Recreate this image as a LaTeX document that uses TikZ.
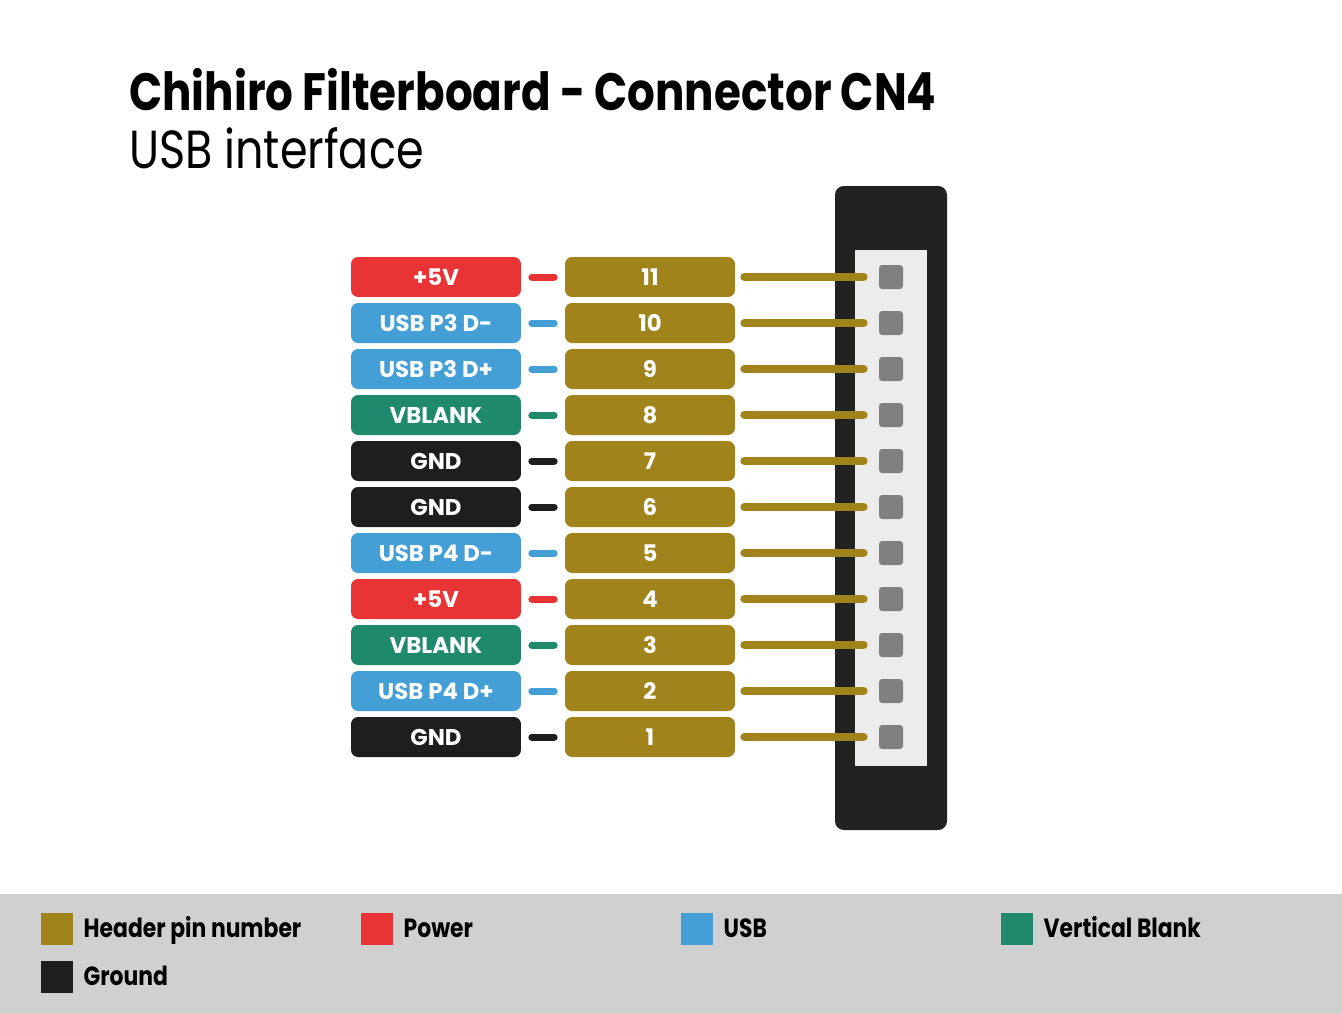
\documentclass[tikz,border=0pt]{standalone}
\usepackage{fontspec}
\setmainfont{Poppins}
\newfontfamily\narrowfont[FakeStretch=0.83]{Poppins}
\usetikzlibrary{positioning, calc}
\definecolor{pinGold}{HTML}{A0831B}
\definecolor{pwrRed}{HTML}{E83435}
\definecolor{usbBlue}{HTML}{439FD6}
\definecolor{vblGreen}{HTML}{1F8A6B}
\definecolor{gndBlack}{HTML}{1E1E1E}
\definecolor{bodyBlack}{HTML}{222220}
\definecolor{panelGray}{HTML}{ECECEC}
\definecolor{contactGray}{HTML}{808080}
\definecolor{legendGray}{HTML}{D0D0D0}
\tikzset{
    sigbox/.style={rounded corners=4pt, minimum width=3.4cm, minimum height=0.8cm, inner sep=0pt,
        text=white, font=\bfseries\fontsize{13}{15}\selectfont},
    pinbox/.style={sigbox, fill=pinGold},
    contact/.style={fill=contactGray, rounded corners=1.8pt, minimum size=0.48cm, inner sep=0pt},
    stub/.style={line width=0.14cm, line cap=round, shorten <=0.21cm, shorten >=0.21cm},
    lead/.style={draw=pinGold, line width=0.16cm, line cap=round, shorten <=0.18cm, shorten >=0.3cm},
    swatch/.style={minimum size=0.64cm, inner sep=0pt},
    keytext/.style={anchor=base west, inner sep=0pt, font=\narrowfont\bfseries\fontsize{15}{18}\selectfont}
}
\begin{document}
\begin{tikzpicture}[x=0.02cm, y=-0.02cm]
    \useasboundingbox (0,0) rectangle (1342,1014);
    \fill[white] (0,0) rectangle (1342,1014);
    %
    \node[anchor=base west, inner sep=0pt, font=\narrowfont\bfseries\fontsize{29.9}{36}\selectfont] (title) at (129,110) {Chihiro Filterboard - Connector CN4};
    \node[anchor=base west, inner sep=0pt, font=\narrowfont\fontsize{30.5}{36}\selectfont] (subtitle) at (129,168) {USB interface};
    %
    \fill[bodyBlack, rounded corners=5pt] (835,186) rectangle (947,830);
    \fill[panelGray] (855,250) rectangle (927,766);
    %
    \foreach \pin/\sig/\col [count=\i from 0] in {11/+5V/pwrRed, 10/USB P3 D-/usbBlue, 9/USB P3 D+/usbBlue,
            8/VBLANK/vblGreen, 7/GND/gndBlack, 6/GND/gndBlack, 5/USB P4 D-/usbBlue, 4/+5V/pwrRed,
            3/VBLANK/vblGreen, 2/USB P4 D+/usbBlue, 1/GND/gndBlack} {
        \node[sigbox, fill=\col] (sig-\pin) at (436,277+46*\i) {\sig};
        \node[pinbox] (pin-\pin) at (650,277+46*\i) {\pin};
        \node[contact] (cnt-\pin) at (891,277+46*\i) {};
        \draw[stub, draw=\col] (sig-\pin) -- (pin-\pin);
        \draw[lead] (pin-\pin) -- (cnt-\pin);
    }
    %
    \fill[legendGray] (0,894) rectangle (1342,1014);
    \node[swatch, fill=pinGold] (key-pin) at (57,929) {};
    \node[keytext] at ($(key-pin.east)+(10,8)$) {Header pin number};
    \node[swatch, fill=pwrRed] (key-pwr) at (377,929) {};
    \node[keytext] at ($(key-pwr.east)+(10,8)$) {Power};
    \node[swatch, fill=usbBlue] (key-usb) at (697,929) {};
    \node[keytext] at ($(key-usb.east)+(10,8)$) {USB};
    \node[swatch, fill=vblGreen] (key-vbl) at (1017,929) {};
    \node[keytext] at ($(key-vbl.east)+(10,8)$) {Vertical Blank};
    \node[swatch, fill=gndBlack] (key-gnd) at (57,977) {};
    \node[keytext] at ($(key-gnd.east)+(10,8)$) {Ground};
\end{tikzpicture}
\end{document}
